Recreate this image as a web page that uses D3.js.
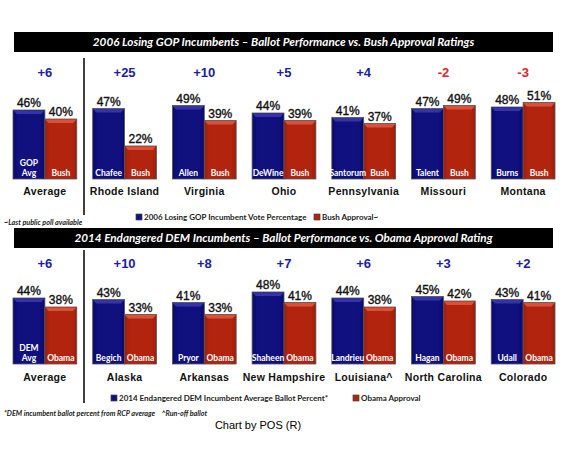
<!DOCTYPE html>
<html><head><meta charset="utf-8">
<script src="https://cdn.jsdelivr.net/npm/d3@7"></script>
<style>
body{margin:0;background:#fff;}
svg{display:block;}
</style></head>
<body>
<svg id="chart" width="563" height="451"></svg>
<script>
// ---- Data ----
const categoriesTop = ["Average","Rhode Island","Virginia","Ohio","Pennsylvania","Missouri","Montana"];
const incumbentsTop = ["GOP Avg","Chafee","Allen","DeWine","Santorum","Talent","Burns"];
const gopVote = [46,47,49,44,41,47,48];
const bushApproval = [40,22,39,39,37,49,51];
const marginsTop = ["+6","+25","+10","+5","+4","-2","-3"];

const categoriesBottom = ["Average","Alaska","Arkansas","New Hampshire","Louisiana^","North Carolina","Colorado"];
const incumbentsBottom = ["DEM Avg","Begich","Pryor","Shaheen","Landrieu","Hagan","Udall"];
const demBallot = [44,43,41,48,44,45,43];
const obamaApproval = [38,33,33,41,38,42,41];
const marginsBottom = ["+6","+10","+8","+7","+6","+3","+2"];

const titleTop = "2006 Losing GOP Incumbents \u2013 Ballot Performance vs. Bush Approval Ratings";
const titleBottom = "2014 Endangered DEM Incumbents \u2013 Ballot Performance vs. Obama Approval Rating";
const legendTop = ["2006 Losing GOP Incumbent Vote Percentage","Bush Approval~"];
const legendBottom = ["2014 Endangered DEM Incumbent Average Ballot Percent*","Obama Approval"];
const noteTop = "~Last public poll available";
const noteBottom = "*DEM incumbent ballot percent from RCP average    ^Run-off ballot";
const credit = "Chart by POS (R)";

// ---- Drawing ----
const svg = d3.select("#chart");
const defs = svg.append("defs");
function grad(id, edge, mid){
  const g = defs.append("linearGradient").attr("id", id).attr("x1","0").attr("x2","1").attr("y1","0").attr("y2","0");
  g.append("stop").attr("offset","0%").attr("stop-color", edge);
  g.append("stop").attr("offset","15%").attr("stop-color", mid);
  g.append("stop").attr("offset","85%").attr("stop-color", mid);
  g.append("stop").attr("offset","100%").attr("stop-color", edge);
}
grad("gBlue", "#08086a", "#10107e");
grad("gRed", "#9a1e0c", "#b3240f");
const colors = {
  blue: {fill:"url(#gBlue)", top:"#3434a8", solid:"#12127e"},
  red: {fill:"url(#gRed)", top:"#dc5038", solid:"#b3240f"}
};

const labelFont = "Lato, 'Open Sans', sans-serif";
const arial = "'Liberation Sans', Arial, sans-serif";

function header(y, text){
  svg.append("rect").attr("x",14).attr("y",y).attr("width",539).attr("height",20).attr("fill","#000");
  svg.append("text").attr("x",(14+553)/2).attr("y",y+10).attr("dy","0.35em")
    .attr("text-anchor","middle").attr("fill","#fff")
    .style("font-family",labelFont).style("font-weight","bold").style("font-style","italic")
    .style("font-size","11.7px").text(text);
}

function panel(opts){
  const x = d3.scaleBand().domain(opts.cats).range([13,555]).paddingInner(0.2).paddingOuter(0);
  const xs = d3.scaleBand().domain([0,1]).range([0, x.bandwidth()]);
  const y = d3.scaleLinear().domain([0,60]).range([opts.base, opts.base-90]);
  const g = svg.append("g");

  opts.cats.forEach((c,i)=>{
    const gx = x(c);
    const vals = [opts.a[i], opts.b[i]];
    vals.forEach((v,j)=>{
      const col = j===0 ? colors.blue : colors.red;
      const bx = gx + xs(j), bw = xs.bandwidth(), by = y(v), bh = y(0)-y(v);
      g.append("rect").attr("x",bx).attr("y",by).attr("width",bw).attr("height",bh)
        .attr("fill",col.fill).attr("stroke","#555").attr("stroke-width",0.8);
      g.append("polygon").attr("points",
        `${bx+0.5},${by+0.5} ${bx+bw-0.5},${by+0.5} ${bx+bw-3.5},${by+4} ${bx+3.5},${by+4}`)
        .attr("fill",col.top);
      g.append("text").attr("x",bx+bw/2).attr("y",by-3).attr("text-anchor","middle")
        .style("font-family",arial).style("font-size","12px").attr("fill","#111")
        .attr("stroke","#111").attr("stroke-width",0.35)
        .text(v+"%");
    });
    // inside labels
    const inc = opts.inc[i].split(" ");
    const lbl = g.append("text").attr("text-anchor","middle").attr("fill","#fff")
      .style("font-family",labelFont).style("font-weight","bold").style("font-size","8.5px");
    inc.forEach((t,k)=>{
      lbl.append("tspan").attr("x", gx + xs(0) + xs.bandwidth()/2)
        .attr("y", opts.base - 3 - (inc.length-1-k)*10).text(t);
    });
    g.append("text").attr("x", gx + xs(1) + xs.bandwidth()/2).attr("y", opts.base-3)
      .attr("text-anchor","middle").attr("fill","#fff")
      .style("font-family",labelFont).style("font-weight","bold").style("font-size","8.5px")
      .text(opts.bLabel);
    // margin
    const neg = opts.m[i].startsWith("-");
    g.append("text").attr("x", gx + x.bandwidth()/2).attr("y", opts.mY).attr("dy","0.35em")
      .attr("text-anchor","middle").attr("fill", neg ? "#e0242b" : "#1c1ca6")
      .style("font-family",arial).style("font-weight","bold").style("font-size","13px")
      .text(opts.m[i]);
    // category
    g.append("text").attr("x", gx + x.bandwidth()/2).attr("y", opts.catY).attr("dy","0.35em")
      .attr("text-anchor","middle").attr("fill","#111")
      .style("font-family",arial).style("font-weight","bold").style("font-size","10.5px")
      .style("letter-spacing","0.3px")
      .text(c);
  });
  // separator
  g.append("line").attr("x1",84).attr("x2",84).attr("y1",opts.sep[0]).attr("y2",opts.sep[1])
    .attr("stroke","#000").attr("stroke-width",1.5);
  // legend
  const lg = g.append("g");
  opts.leg.forEach((t,j)=>{
    const col = j===0 ? colors.blue : colors.red;
    lg.append("rect").attr("x",opts.legX[j]).attr("y",opts.legY-3).attr("width",6).attr("height",6)
      .attr("fill",col.solid).attr("stroke","#444").attr("stroke-width",0.7);
    lg.append("text").attr("x",opts.legX[j]+8).attr("y",opts.legY).attr("dy","0.35em")
      .style("font-family",labelFont).style("font-weight","bold").style("font-size","8px").attr("fill","#222")
      .text(t);
  });
  svg.append("text").attr("x",4).attr("y",opts.noteY).attr("dy","0.35em")
    .style("font-family",labelFont).style("font-weight","bold").style("font-style","italic")
    .style("font-size","7.2px").style("white-space","pre").attr("fill","#222").text(opts.note);
}

header(32, titleTop);
panel({cats:categoriesTop, inc:incumbentsTop, a:gopVote, b:bushApproval, m:marginsTop, bLabel:"Bush",
  base:179, mY:72, catY:191, sep:[58,215], leg:legendTop, legX:[136,314], legY:217, note:noteTop, noteY:222});
header(228, titleBottom);
panel({cats:categoriesBottom, inc:incumbentsBottom, a:demBallot, b:obamaApproval, m:marginsBottom, bLabel:"Obama",
  base:364, mY:263, catY:377, sep:[250,403], leg:legendBottom, legX:[111,353], legY:398, note:noteBottom, noteY:413});

svg.append("text").attr("x",258).attr("y",425).attr("dy","0.35em").attr("text-anchor","middle")
  .style("font-family",arial).style("font-size","11px").attr("fill","#000").text(credit);
</script>
</body></html>
